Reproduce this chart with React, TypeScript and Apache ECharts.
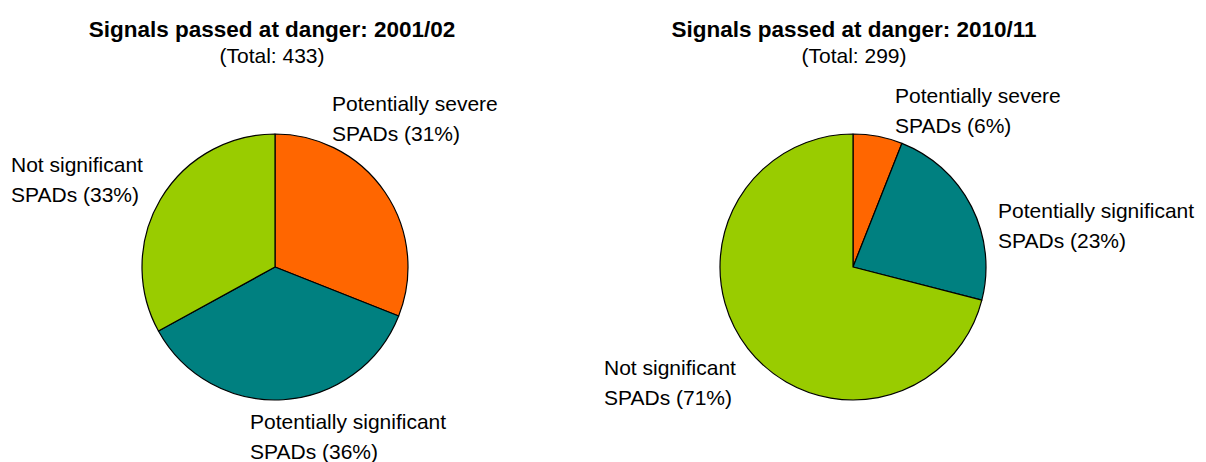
import React, { useEffect, useRef } from "react";
import * as echarts from "echarts";

const categories = ["Potentially severe", "Potentially significant", "Not significant"];
const values2001 = [31, 36, 33];
const values2010 = [6, 23, 71];
const titles = ["Signals passed at danger: 2001/02", "Signals passed at danger: 2010/11"];
const totals = [433, 299];

const colors = ["#FF6600", "#008080", "#99CC00"];
const FONT = "'Liberation Sans', Arial, sans-serif";

// label anchor positions (top-left of each label block)
const labelPos = [
  [
    [332, 88],
    [250, 406],
    [11, 149],
  ],
  [
    [895, 80],
    [998, 195],
    [604, 352],
  ],
];
const titleX = [267, 849];

export default function App() {
  const ref = useRef<HTMLDivElement>(null);
  useEffect(() => {
    document.body.style.margin = "0";
    const chart = echarts.init(ref.current!, undefined, { renderer: "svg" });
    const centers = [275, 853];
    const makeSeries = (vals: number[], idx: number) => ({
      type: "pie",
      center: [centers[idx], 267],
      radius: 133,
      startAngle: 90,
      clockwise: true,
      silent: true,
      itemStyle: { borderColor: "#000", borderWidth: 1.2 },
      labelLine: { show: false },
      label: {
        show: true,
        position: "outside",
        overflow: "none",
        fontFamily: FONT,
        fontSize: 21,
        lineHeight: 30,
        color: "#000",
        formatter: (p: any) => `${p.name}\nSPADs (${p.value}%)`,
      },
      labelLayout: (p: any) => ({
        x: labelPos[idx][p.dataIndex][0],
        y: labelPos[idx][p.dataIndex][1],
        align: "left",
        verticalAlign: "top",
      }),
      data: vals.map((v, i) => ({ name: categories[i], value: v, itemStyle: { color: colors[i] } })),
    });
    chart.setOption({
      animation: false,
      title: titles.map((t, i) => ({
        text: t,
        subtext: `(Total: ${totals[i]})`,
        left: titleX[i],
        top: 13,
        textAlign: "center",
        itemGap: 4,
        textStyle: { fontFamily: FONT, fontSize: 22.5, fontWeight: "bold", color: "#000" },
        subtextStyle: { fontFamily: FONT, fontSize: 21, color: "#000" },
      })),
      series: [makeSeries(values2001, 0), makeSeries(values2010, 1)],
    });
    return () => chart.dispose();
  }, []);
  return <div ref={ref} style={{ width: 1206, height: 462 }} />;
}
